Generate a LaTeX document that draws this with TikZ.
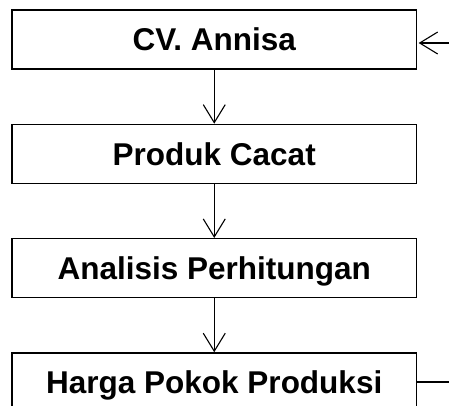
\documentclass[tikz,border=0pt]{standalone}
\usepackage{fontspec}
\setmainfont{Liberation Sans}
\usetikzlibrary{arrows.meta}
\usetikzlibrary{positioning}

\begin{document}
\begin{tikzpicture}[x=1pt, y=-1pt, >={Straight Barb[length=18pt,width=22pt]},
    kotak/.style={draw, line width=1.3pt, minimum width=404.5pt, minimum height=59pt,
        inner sep=0pt, text height=22.6pt, text depth=0pt,
        font=\fontsize{31.5}{36}\selectfont\bfseries},
    node distance=54pt]

    \useasboundingbox (0,0) rectangle (449,405);
    \clip (0,0) rectangle (449,405);

    \node[kotak] (cv) at (214.25,39.5) {CV. Annisa};
    \node[kotak, below=of cv] (cacat) {Produk Cacat};
    \node[kotak, below=of cacat] (analisis) {Analisis Perhitungan};
    \node[kotak, below=of analisis] (hpp) {Harga Pokok Produksi};

    \draw[->, line width=1.1pt] (cv) -- (cacat);
    \draw[->, line width=1.1pt] (cacat) -- (analisis);
    \draw[->, line width=1.1pt] (analisis) -- (hpp);

    % umpan balik dari tepi kanan
    \coordinate (masuk) at (449,43);
    \coordinate (keluar) at (449,382);
    \draw[->, line width=1.1pt] (masuk) -- ([xshift=1.5pt]cv.east |- masuk);
    \draw[line width=1.1pt] (hpp.east |- keluar) -- (keluar);

\end{tikzpicture}
\end{document}
